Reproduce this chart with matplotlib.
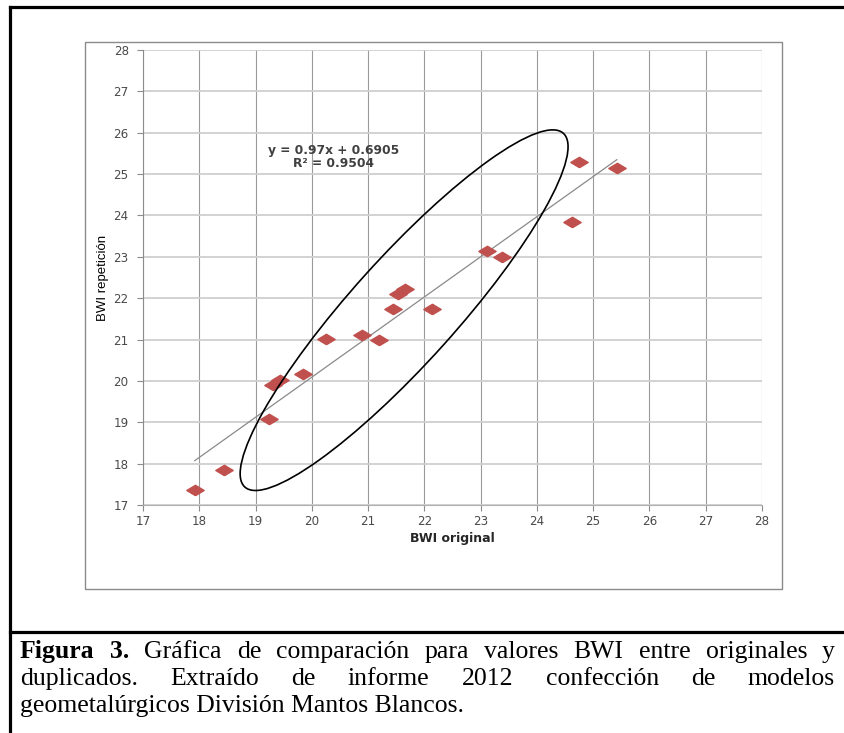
import matplotlib
matplotlib.use("Agg")
from matplotlib import pyplot as plt
from matplotlib.patches import Ellipse, Rectangle
from matplotlib.lines import Line2D
from matplotlib.transforms import ScaledTranslation

# valores
bwi_original = [17.92, 18.44, 19.24, 19.31, 19.43, 19.84, 20.25, 20.90, 21.19,
				21.45, 21.53, 21.65, 22.13, 23.12, 23.38, 24.63, 24.75, 25.42]
bwi_repeticion = [17.37, 17.85, 19.07, 19.90, 20.02, 20.16, 21.02, 21.12, 20.99,
				  21.75, 22.11, 22.23, 21.73, 23.15, 23.00, 23.84, 25.29, 25.15]
ticks = list(range(17, 29))
slope = 0.97
intercept = 0.6905
r2 = 0.9504

caption_line1 = [("Figura", True), ("3.", True), ("Gráfica", False), ("de", False),
				 ("comparación", False), ("para", False), ("valores", False), ("BWI", False),
				 ("entre", False), ("originales", False), ("y", False)]
caption_line2 = ["duplicados.", "Extraído", "de", "informe", "2012", "confección", "de", "modelos"]
caption_line3 = "geometalúrgicos División Mantos Blancos."

W, H = 844, 733
fig = plt.figure(figsize=(W/100, H/100), dpi=100)

def fx(px):
	return px/W

def fy(py):
	return 1-py/H

# marcos
fig.add_artist(Line2D([fx(10), 1], [fy(7), fy(7)], color='black', lw=2.3))
fig.add_artist(Line2D([fx(10), fx(10)], [fy(7), 0], color='black', lw=2.3))
fig.add_artist(Line2D([fx(10), 1], [fy(632), fy(632)], color='black', lw=2.3))
fig.add_artist(Rectangle((fx(85), fy(589)), fx(782)-fx(85), fy(42)-fy(589),
						 fill=False, ec='#8a8a8a', lw=1.0))

ax = fig.add_axes([fx(143), fy(505), (762-143)/W, (505-50)/H])
ax.set_xlim(17, 28)
ax.set_ylim(17, 28)
ax.set_xticks(ticks)
ax.set_yticks(ticks)
ax.set_axisbelow(True)
ax.grid(axis='x', color='#9a9a9a', lw=0.8)
ax.grid(axis='y', color='#cfcfcf', lw=1.3)
for s in ['top', 'right']:
	ax.spines[s].set_visible(False)
ax.spines['left'].set_color('#8c8c8c')
ax.spines['bottom'].set_color('#b0b0b0')
ax.tick_params(axis='y', length=4.3, pad=6, color='#8c8c8c', labelcolor='#4a4a4a', labelsize=8.6)
ax.tick_params(axis='x', length=4.3, pad=3, color='#8c8c8c', labelcolor='#4a4a4a', labelsize=8.6)

# linea de tendencia
x0, x1 = min(bwi_original), max(bwi_original)
ax.plot([x0, x1], [slope*x0+intercept, slope*x1+intercept], color='#8a8a8a', lw=0.9, zorder=2)

diamond = [(0, -0.6), (1, 0), (0, 0.6), (-1, 0), (0, -0.6)]
ax.plot(bwi_original, bwi_repeticion, ls='none', marker=diamond, markersize=12.5,
		color='#C0504D', mec='#C0504D', zorder=3)

ax.text(20.39, 25.41, "y = 0.97x + 0.6905\nR² = 0.9504", ha='center', va='center',
		fontsize=8.8, fontweight='bold', color='#404040', linespacing=1.0)

ax.set_xlabel("BWI original", fontsize=9, fontweight='bold', color='#262626', labelpad=3)
ax.set_ylabel("BWI repetición", fontsize=9.5, color='black',
			  family=['Liberation Sans', 'DejaVu Sans'], labelpad=3)

# ovalo
trans = fig.dpi_scale_trans + ScaledTranslation(21.64, 21.71, ax.transData)
ax.add_patch(Ellipse((0, 0), 4.76, 1.05, angle=48, fill=False, ec='black', lw=1.2,
					 transform=trans, clip_on=False, zorder=4))

# leyenda de la figura, justificada
renderer = fig.canvas.get_renderer()
cap_size = 18.5

def put_line(words, base, left=20, right=835):
	texts = []
	for w, b in words:
		t = fig.text(0, fy(base), w, fontsize=cap_size, family='Liberation Serif',
					 fontweight='bold' if b else 'normal', va='baseline')
		texts.append(t)
	widths = [t.get_window_extent(renderer).width for t in texts]
	gap = (right-left-sum(widths))/(len(texts)-1)
	x = left
	for t, w in zip(texts, widths):
		t.set_x(fx(x))
		x += w+gap

put_line(caption_line1, 658)
put_line([(w, False) for w in caption_line2], 685)
fig.text(fx(20), fy(712), caption_line3, fontsize=cap_size, family='Liberation Serif', va='baseline')

plt.savefig("out.png", dpi=100)
